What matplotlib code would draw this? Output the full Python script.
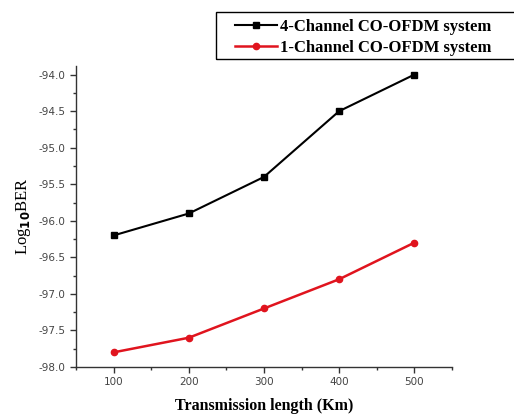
import matplotlib
matplotlib.use("Agg")
import matplotlib.pyplot as plt
from matplotlib.patches import Rectangle

# data
length_km = [100, 200, 300, 400, 500]
ber_4ch = [-96.2, -95.9, -95.4, -94.5, -94.0]
ber_1ch = [-97.8, -97.6, -97.2, -96.8, -96.3]

fig = plt.figure(figsize=(5.14, 4.17), dpi=100)
ax = fig.add_axes([0.148, 0.12, 0.731, 0.722])

ax.plot(length_km, ber_4ch, color='black', lw=1.5, marker='s', ms=4.5,
        label='4-Channel CO-OFDM system')
ax.plot(length_km, ber_1ch, color='#e0141e', lw=1.8, marker='o', ms=4.5,
        label='1-Channel CO-OFDM system')

ax.set_xlim(50, 550)
ax.set_ylim(-98.0, -93.88)
ax.set_xticks([100, 200, 300, 400, 500])
ax.set_xticks([50, 150, 250, 350, 450, 550], minor=True)
ax.set_yticks([-98.0, -97.5, -97.0, -96.5, -96.0, -95.5, -95.0, -94.5, -94.0])
ax.set_yticks([-97.75, -97.25, -96.75, -96.25, -95.75, -95.25, -94.75, -94.25], minor=True)
ax.yaxis.set_major_formatter(plt.FormatStrFormatter('%.1f'))

for side in ['top', 'right']:
    ax.spines[side].set_visible(False)
for side in ['left', 'bottom']:
    ax.spines[side].set_color('#333333')
    ax.spines[side].set_linewidth(1.0)

ax.tick_params(which='major', direction='out', length=4, width=1, color='#333333',
               labelsize=7.5, labelcolor='#444444')
ax.tick_params(which='minor', direction='out', length=2.5, width=1, color='#333333')

ax.set_xlabel('Transmission length (Km)', family='Liberation Serif', fontweight='bold',
              fontsize=11.5, labelpad=8)
ax.set_ylabel(r'Log$_{\mathbf{10}}$BER', family='Liberation Serif', fontsize=12, labelpad=4)

# legend entries without frame, box drawn separately (it runs off the right edge)
leg = fig.legend(loc='upper left', bbox_to_anchor=(0.458, 0.954), frameon=False,
                 prop={'family': 'Liberation Serif', 'weight': 'bold', 'size': 12},
                 handlelength=2.5, borderpad=0, labelspacing=0.3, handletextpad=0.2,
                 borderaxespad=0)
fig.patches.append(Rectangle((216 / 514, 1 - 59 / 417), 0.7, 47 / 417, transform=fig.transFigure,
                             fill=False, edgecolor='black', lw=1.0))

fig.savefig('out.png', dpi=100)
